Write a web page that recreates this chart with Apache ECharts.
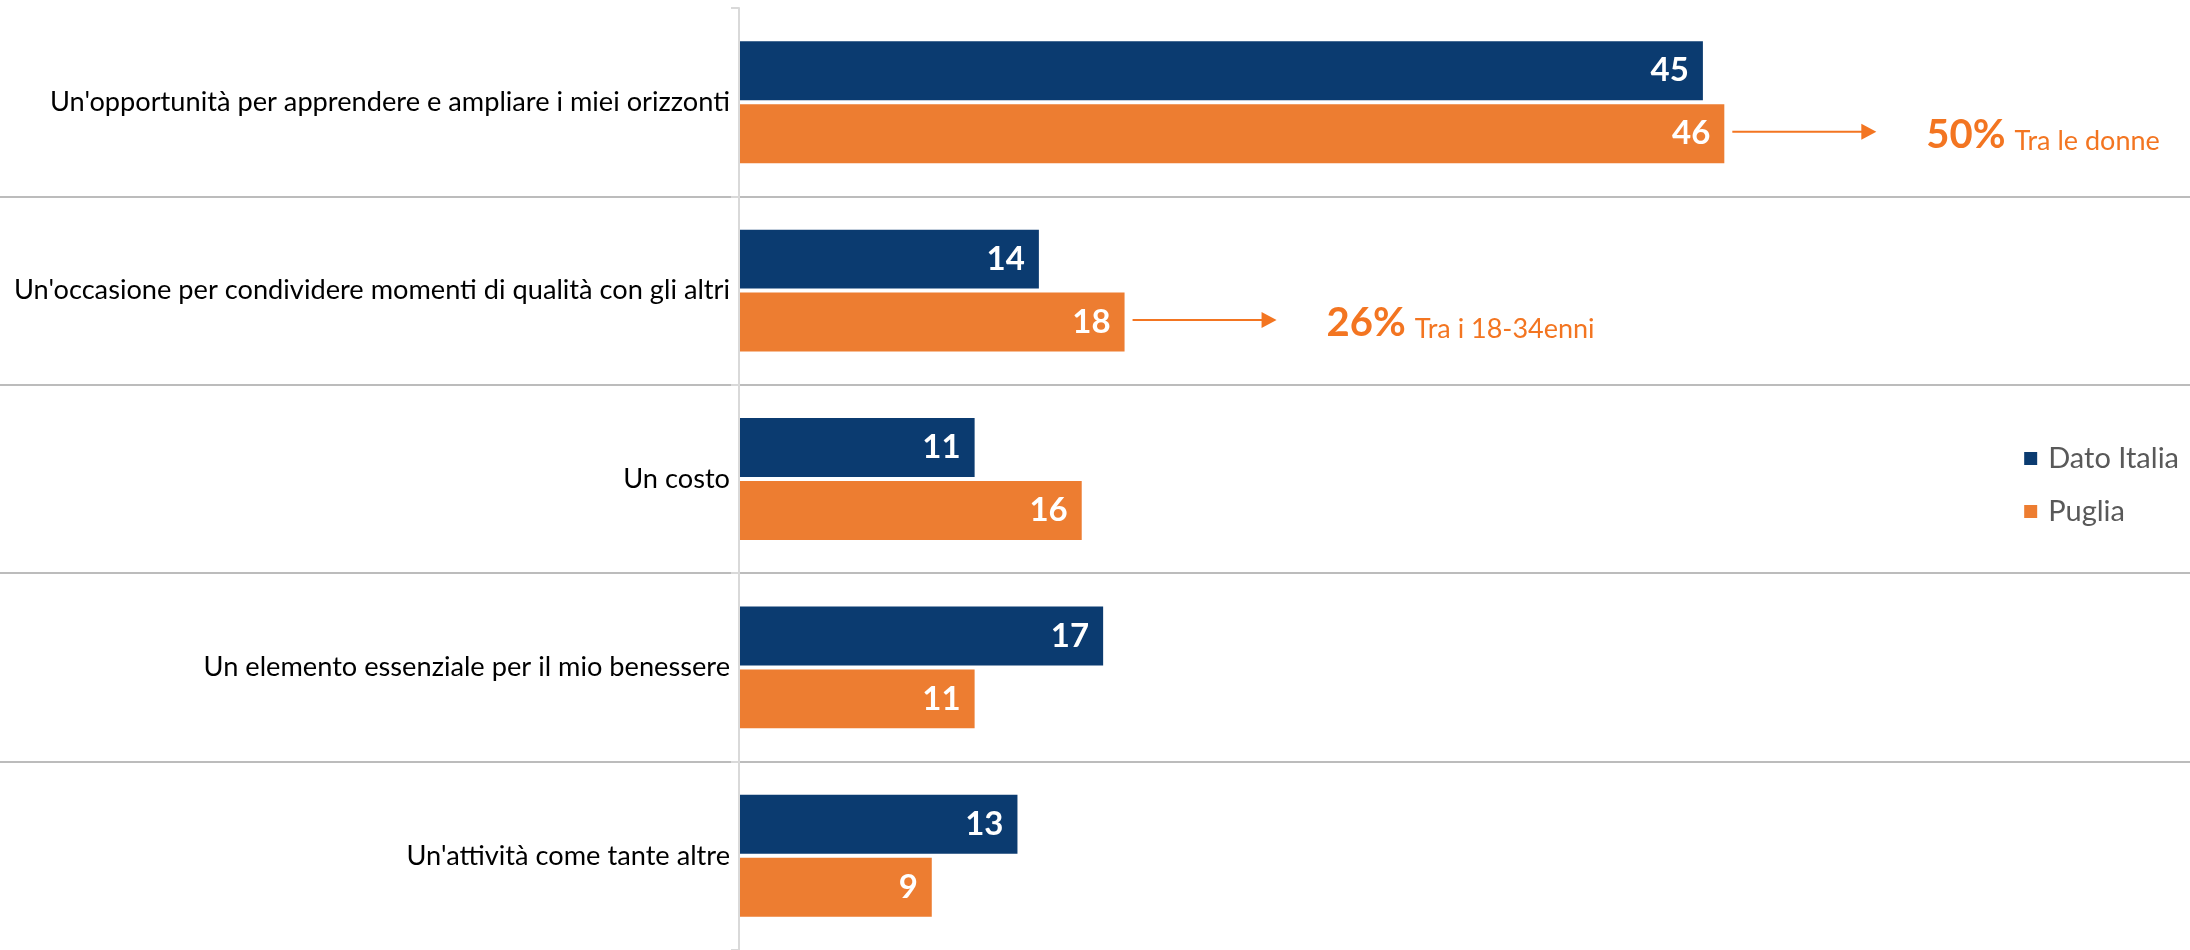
<!DOCTYPE html>
<html>
<head>
<meta charset="utf-8">
<script src="https://cdn.jsdelivr.net/npm/echarts@6/dist/echarts.min.js"></script>
<style>
  html, body { margin: 0; padding: 0; background: #ffffff; }
  #chart { width: 2190px; height: 950px; }
</style>
</head>
<body>
<div id="chart"></div>
<script>
// Survey answers (percent), one entry per category
const categories = [
  "Un'opportunità per apprendere e ampliare i miei orizzonti",
  "Un'occasione per condividere momenti di qualità con gli altri",
  "Un costo",
  "Un elemento essenziale per il mio benessere",
  "Un'attività come tante altre"
];
const seriesNames = ['Dato Italia', 'Puglia'];
const italia = [45, 14, 11, 17, 13];
const puglia = [46, 18, 16, 11, 9];

// Callouts attached to the Puglia bars
const calloutCategory = [0, 1];
const calloutValue = [50, 26];
const calloutText = ['Tra le donne', 'Tra i 18-34enni'];

const BLUE = '#0b3b70';
const ORANGE = '#ed7d31';
const ACCENT = '#f37521';
const FONT = 'Lato, "Open Sans", sans-serif';
const CAT_GAP = 0.353;
const BAR_GAP = 0.068;

const chart = echarts.init(document.getElementById('chart'), null, { renderer: 'canvas' });

// Arrow plus "NN% text" drawn to the right of a Puglia bar
function renderCallout(params, api) {
  const p = api.coord([api.value(0), api.value(1)]);
  const band = api.size([0, 1])[1];
  const barW = band * (1 - CAT_GAP) / (2 + BAR_GAP);
  const y = p[1] + barW * (1 + BAR_GAP) / 2 - 2;
  const x0 = p[0] + 8;
  const tip = p[0] + 152;
  return {
    type: 'group',
    children: [
      { type: 'line', shape: { x1: x0, y1: y, x2: tip - 12, y2: y },
        style: { stroke: ACCENT, lineWidth: 2 } },
      { type: 'polygon', shape: { points: [[tip, y], [tip - 15, y - 8], [tip - 15, y + 8]] },
        style: { fill: ACCENT } },
      { type: 'text', x: tip + 50, y: y + 2,
        style: {
          text: '{p|' + api.value(2) + '%}{t|' + calloutText[params.dataIndex] + '}',
          fill: ACCENT,
          align: 'left', verticalAlign: 'middle',
          rich: {
            p: { fontFamily: FONT, fontSize: 40, fontWeight: 'bold', fill: ACCENT,
                 lineHeight: 42, verticalAlign: 'bottom' },
            t: { fontFamily: FONT, fontSize: 27, fill: ACCENT,
                 lineHeight: 34, verticalAlign: 'bottom', padding: [0, 0, 0, 9] }
          }
        } }
    ]
  };
}

const barLabel = {
  show: true, position: 'insideRight', distance: 14, color: '#ffffff',
  fontFamily: FONT, fontWeight: 'bold', fontSize: 33
};

const option = {
  animation: false,
  backgroundColor: '#ffffff',
  legend: {
    data: seriesNames,
    orient: 'vertical',
    right: 6,
    top: 439,
    icon: 'rect',
    itemWidth: 13,
    itemHeight: 13,
    itemGap: 24,
    textStyle: { fontFamily: FONT, fontSize: 29, color: '#595959', lineHeight: 29, padding: [0, 0, 0, 6] }
  },
  grid: [
    { left: 739, top: 8, width: 21.42 * 60, height: 943 },
    { left: 0, right: 0, top: 8, height: 943 }
  ],
  xAxis: [
    { gridIndex: 0, type: 'value', min: 0, max: 60, show: false },
    { gridIndex: 1, type: 'value', min: 0, max: 1, show: false }
  ],
  yAxis: [
    {
      gridIndex: 0, type: 'category', inverse: true, data: categories, z: 3,
      axisLine: { show: true, lineStyle: { color: '#d9d9d9', width: 2 } },
      axisTick: { show: true, length: 8, lineStyle: { color: '#d9d9d9', width: 2 } },
      axisLabel: { margin: 9, fontFamily: FONT, fontSize: 27.2, color: '#000000' },
      splitLine: { show: false }
    },
    {
      gridIndex: 1, type: 'category', inverse: true, data: categories, z: 1,
      axisLine: { show: false }, axisTick: { show: false }, axisLabel: { show: false },
      splitLine: { show: true, showMinLine: false, showMaxLine: false,
                   lineStyle: { color: '#a6a6a6', width: 1.5 } }
    }
  ],
  series: [
    {
      name: seriesNames[0], type: 'bar', xAxisIndex: 0, yAxisIndex: 0,
      data: italia, barCategoryGap: (CAT_GAP * 100) + '%', barGap: (BAR_GAP * 100) + '%',
      itemStyle: { color: BLUE }, label: barLabel
    },
    {
      name: seriesNames[1], type: 'bar', xAxisIndex: 0, yAxisIndex: 0,
      data: puglia, barCategoryGap: (CAT_GAP * 100) + '%', barGap: (BAR_GAP * 100) + '%',
      itemStyle: { color: ORANGE }, label: barLabel
    },
    {
      type: 'custom', xAxisIndex: 0, yAxisIndex: 0, clip: false, z: 5,
      encode: { x: 0, y: 1 },
      data: calloutCategory.map((c, i) => [puglia[c], c, calloutValue[i]]),
      renderItem: renderCallout
    }
  ]
};

chart.setOption(option);
</script>
</body>
</html>
